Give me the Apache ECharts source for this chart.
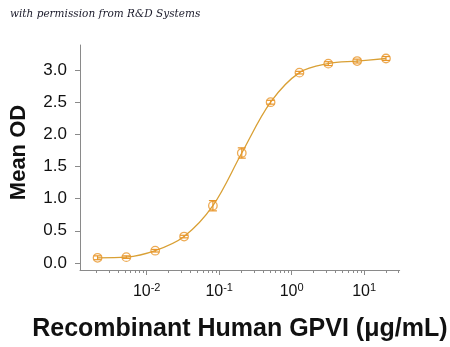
<!DOCTYPE html>
<html><head><meta charset="utf-8">
<script src="https://cdn.jsdelivr.net/npm/echarts@6/dist/echarts.min.js"></script>
<style>html,body{margin:0;padding:0;background:#fff}#c{width:450px;height:347px}</style>
</head><body><div id="c"></div>
<script>
// Concentration (µg/mL)
var concentrations = [0.0021, 0.00524, 0.0131, 0.0328, 0.0819, 0.205, 0.512, 1.28, 3.2, 8, 20];
// Mean OD
var meanOD = [0.08, 0.09, 0.19, 0.41, 0.89, 1.71, 2.50, 2.96, 3.10, 3.14, 3.18];
// Error (+/-)
var errOD = [0.03, 0.02, 0.02, 0.02, 0.08, 0.08, 0.03, 0.02, 0.03, 0.03, 0.03];
var yTicks = [0, 0.5, 1.0, 1.5, 2.0, 2.5, 3.0];
var xDecades = [-2, -1, 0, 1];

var lg = function (v) { return Math.log10(v); };
var pts = concentrations.map(function (c, i) { return [lg(c), meanOD[i]]; });
var errs = concentrations.map(function (c, i) { return [lg(c), meanOD[i] - errOD[i], meanOD[i] + errOD[i]]; });
var minorTicks = [];
[-3, -2, -1, 0, 1].forEach(function (d) { for (var k = 2; k <= 9; k++) { var v = d + Math.log10(k); if (v > -2.92 && v < 1.49) minorTicks.push(v); } });

var ORANGE = '#E8962A', LINE = '#D9A035', AX = '#8a8a8a';
var chart = echarts.init(document.getElementById('c'), null, {renderer: 'canvas'});
chart.setOption({
  animation: false,
  backgroundColor: '#fff',
  grid: {left: 79, right: 50, top: 45, bottom: 77},
  graphic: [{type: 'text', left: 10, top: 9, style: {text: 'with permission from R&D Systems', font: 'italic 10.5px "DejaVu Serif"', fill: '#1a1a2a'}}],
  xAxis: [{
    type: 'value', min: -2.92, max: 1.49,
    axisLine: {show: true, onZero: false, lineStyle: {color: AX, width: 1}},
    axisTick: {show: true, length: 5, inside: false, customValues: xDecades, lineStyle: {color: AX}},
    axisLabel: {
      customValues: xDecades, margin: 12, color: '#111',
      formatter: function (v) { return '{b|10}{s|' + Math.round(v) + '}'; },
      rich: {b: {fontSize: 16, fontFamily: 'Liberation Sans', color: '#111'}, s: {fontSize: 11, fontFamily: 'Liberation Sans', color: '#111', padding: [0, 0, 9, 0]}}
    },
    splitLine: {show: false},
    name: 'Recombinant Human GPVI (\u03bcg/mL)', nameLocation: 'middle', nameGap: 47,
    nameTextStyle: {fontSize: 25, fontWeight: 'bold', fontFamily: 'Liberation Sans', color: '#111'}
  }, {
    type: 'value', min: -2.92, max: 1.49, position: 'bottom',
    axisLine: {show: false, onZero: false},
    axisTick: {show: true, length: 3, customValues: minorTicks, lineStyle: {color: AX}},
    axisLabel: {show: false}, splitLine: {show: false}
  }],
  yAxis: {
    type: 'value', min: -0.11, max: 3.39,
    axisLine: {show: true, onZero: false, lineStyle: {color: AX, width: 1}},
    axisTick: {show: true, length: 5, customValues: yTicks, lineStyle: {color: AX}},
    axisLabel: {customValues: yTicks, margin: 13, fontSize: 17, fontFamily: 'Liberation Sans', color: '#111',
      formatter: function (v) { return v.toFixed(1); }},
    splitLine: {show: false},
    name: 'Mean OD', nameLocation: 'middle', nameGap: 50, nameRotate: 90,
    nameTextStyle: {fontSize: 22, fontWeight: 'bold', fontFamily: 'Liberation Sans', color: '#111', padding: [0, 0, 0, 10]}
  },
  series: [{
    type: 'line', data: pts, smooth: 0.35, symbol: 'none',
    lineStyle: {color: LINE, width: 1.3}, z: 2
  }, {
    type: 'custom', data: errs, z: 3,
    renderItem: function (params, api) {
      var x = api.value(0);
      var lo = api.coord([x, api.value(1)]), hi = api.coord([x, api.value(2)]);
      var w = 4;
      var st = {stroke: ORANGE, lineWidth: 1.2, fill: null};
      return {type: 'group', children: [
        {type: 'line', shape: {x1: lo[0], y1: lo[1], x2: hi[0], y2: hi[1]}, style: st},
        {type: 'line', shape: {x1: lo[0] - w, y1: lo[1], x2: lo[0] + w, y2: lo[1]}, style: st},
        {type: 'line', shape: {x1: hi[0] - w, y1: hi[1], x2: hi[0] + w, y2: hi[1]}, style: st}
      ]};
    }
  }, {
    type: 'scatter', data: pts, symbol: 'circle', symbolSize: 8.5, z: 4,
    itemStyle: {color: 'rgba(255,255,255,0)', borderColor: ORANGE, borderWidth: 1.3}
  }]
});
</script></body></html>
